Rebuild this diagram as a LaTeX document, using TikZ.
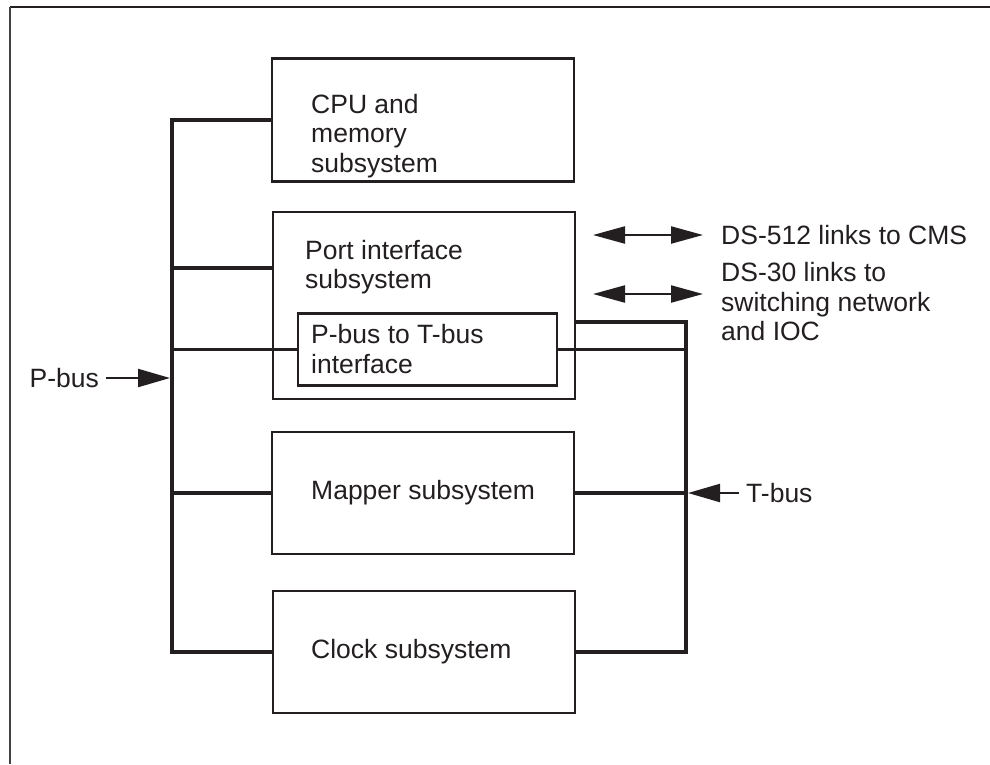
\documentclass[tikz,border=0pt]{standalone}
\usepackage{fontspec}
\setmainfont{Liberation Sans}
\usetikzlibrary{arrows.meta}
\definecolor{ink}{HTML}{231F20}
\begin{document}
\begin{tikzpicture}[x=1pt,y=-1pt,
  box/.style={draw=ink, line width=2.5pt, minimum width=302pt, inner sep=0pt},
  lbl/.style={font=\fontsize{26.5}{29.5}\selectfont, text=ink, inner sep=0pt, anchor=west, align=left},
  bus/.style={draw=ink, line width=4pt},
  conn/.style={draw=ink, line width=3.6pt},
  arr/.style={draw=ink, line width=2.2pt, -{Triangle[length=32pt,width=18pt]}},
  darr/.style={draw=ink, line width=2.2pt, {Triangle[length=32pt,width=17pt]}-{Triangle[length=32pt,width=17pt]}},
]
\useasboundingbox (0,0) rectangle (990,764);
% frame
\coordinate (ftl) at (10,7);
\coordinate (ftr) at (990,7);
\coordinate (fbl) at (10,764);
\draw[ink, line width=1.8pt] (ftl) -- (ftr);
\draw[ink!85, line width=1.1pt] (ftl) -- (fbl);

% boxes
\node[box, minimum height=123pt] (cpu) at (423,120) {};
\node[box, minimum height=187pt] (port) at (424,305.5) {};
\node[box, minimum width=259pt, minimum height=72pt] (pti) at (427.5,349.5) {};
\node[box, minimum height=122pt] (mapper) at (423,493) {};
\node[box, minimum height=122pt] (clock) at (424,652) {};

% texts
\node[lbl] (cputxt) at (311,136) {CPU and\\memory\\subsystem};
\node[lbl] (porttxt) at (305,267) {Port interface\\subsystem};
\node[lbl] (ptitxt) at (311,349) {P-bus to T-bus\\interface};
\node[lbl] (maptxt) at (311,493) {Mapper subsystem};
\node[lbl] (clktxt) at (311,652) {Clock subsystem};

% P-bus
\coordinate (pb1) at (172,120);
\coordinate (pb2) at (172,268);
\coordinate (pb3) at (172,349.5);
\coordinate (pb4) at (172,493);
\coordinate (pb5) at (172,652);
\draw[bus] (cpu.west) -- (pb1) -- (pb5) -- (clock.west);
\draw[conn] (pb2) -- (pb2 -| port.west);
\draw[conn] (pb3) -- (pti.west);
\draw[conn] (pb4) -- (mapper.west);

% T-bus
\coordinate (tb1) at (686,322);
\coordinate (tb2) at (686,349.5);
\coordinate (tb3) at (686,493);
\coordinate (tb4) at (686,652);
\draw[conn] (tb1 -| port.east) -- (tb1) -- (tb4) -- (clock.east);
\draw[conn] (pti.east) -- (tb2);
\draw[conn] (mapper.east) -- (tb3);

% bus labels
\node[lbl, anchor=east] (pbus) at (99,378) {P-bus};
\coordinate (pbtip) at (170,378);
\draw[arr] ([xshift=7pt]pbus.east) -- (pbtip);
\node[lbl] (tbus) at (746,493) {T-bus};
\coordinate (tbtip) at (688,493);
\draw[arr] ([xshift=-7pt]tbus.west) -- (tbtip);

% DS links
\node[lbl] (ds512) at (721,235) {DS-512 links to CMS};
\coordinate (d1a) at (593,235);
\coordinate (d1b) at (703,235);
\draw[darr] (d1a) -- (d1b);
\node[lbl] (ds30) at (721,302) {DS-30 links to\\switching network\\and IOC};
\coordinate (d2a) at (593,294);
\coordinate (d2b) at (703,294);
\draw[darr] (d2a) -- (d2b);
\end{tikzpicture}
\end{document}
